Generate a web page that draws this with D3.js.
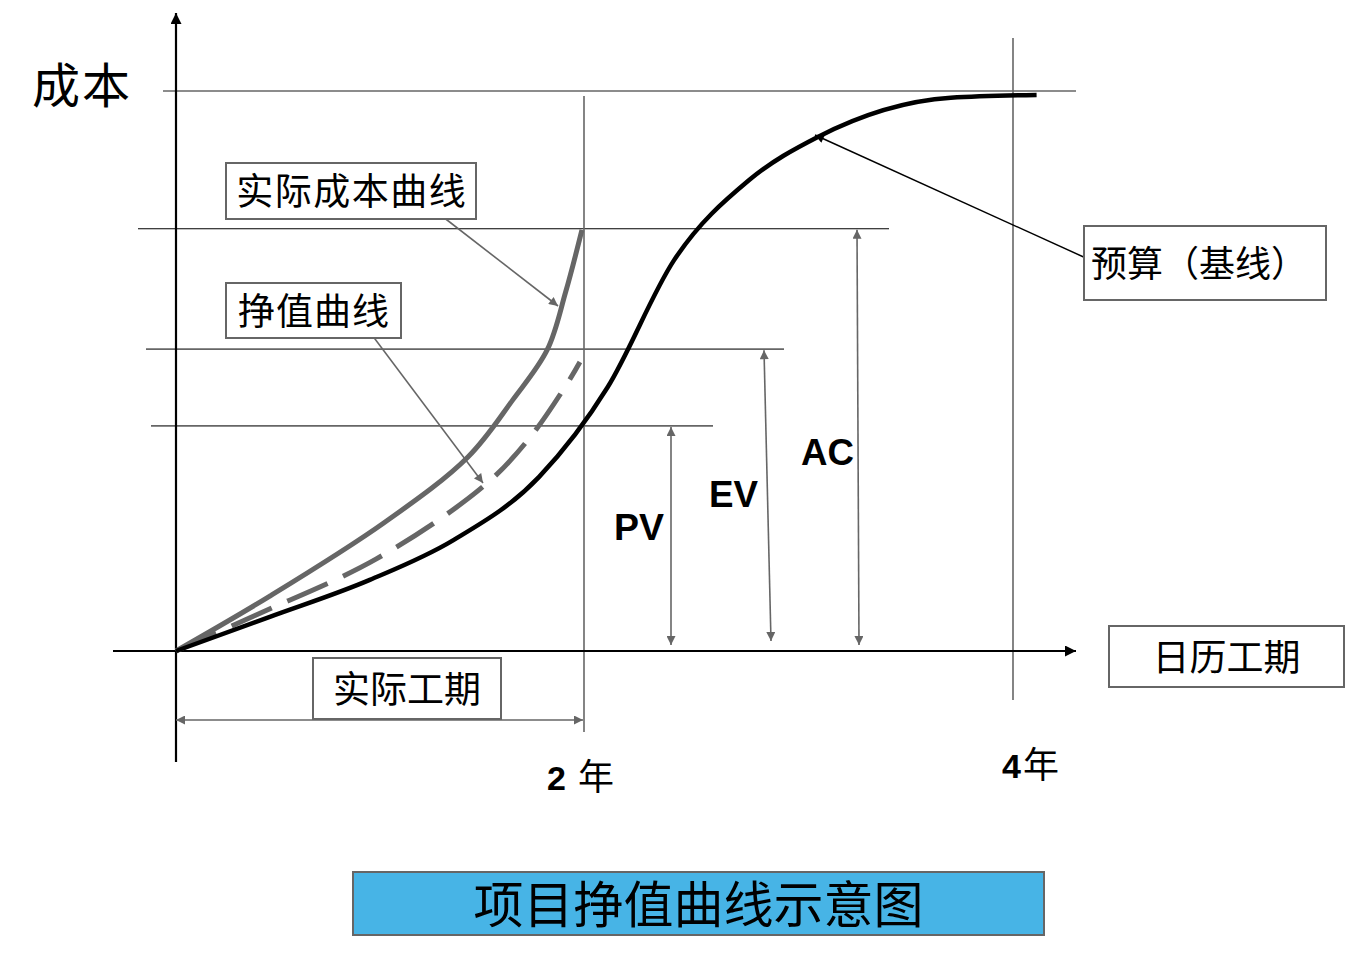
<!DOCTYPE html>
<html>
<head>
<meta charset="utf-8">
<script src="https://cdn.jsdelivr.net/npm/d3@7"></script>
<style>
  body { margin: 0; background: #fff; }
</style>
</head>
<body>
<div id="chart"></div>
<script>
// time in years, cost in % of budget
const planTime = [0, 0.46, 0.95, 1.36, 1.78, 2.11, 2.42, 2.77, 3.09, 3.71, 4.11];
const planCost = [0, 6.1, 12.7, 19.8, 31.1, 47.1, 69.8, 84.1, 91.8, 98.8, 99.3];

const actualTime = [0, 0.46, 1.02, 1.43, 1.65, 1.82, 1.91, 1.99];
const actualCost = [0, 9.8, 22.9, 34.6, 44.8, 53.8, 64.1, 75.2];

const earnedTime = [0, 0.39, 0.98, 1.51, 1.73, 1.92, 1.98];
const earnedCost = [0, 6.4, 16.4, 29.5, 37.9, 47.9, 51.6];

const budget = 100;
const acValue = 75.4;
const evValue = 53.9;
const pvValue = 40.2;

const yearTicks = [2, 4];
const yearLabels = ["2 年", "4年"];

const W = 1345, H = 961;
const GRAY = "#666";
const CJK = "'Noto Sans CJK SC', 'Noto Sans', sans-serif";
const LAT = "'Liberation Sans', Arial, sans-serif";

const x = d3.scaleLinear().domain([0, 2, 4]).range([176, 584, 1013]);
const y = d3.scaleLinear().domain([0, 100]).range([651, 91]);

const svg = d3.select("#chart")
  .append("svg")
  .attr("width", W)
  .attr("height", H);

const defs = svg.append("defs");
function marker(id, color, w, h) {
  defs.append("marker")
    .attr("id", id)
    .attr("viewBox", "0 0 10 10")
    .attr("refX", 10)
    .attr("refY", 5)
    .attr("markerUnits", "userSpaceOnUse")
    .attr("markerWidth", w)
    .attr("markerHeight", h)
    .attr("orient", "auto-start-reverse")
    .append("path")
    .attr("d", "M0,0 L10,5 L0,10 z")
    .attr("fill", color);
}
marker("arrGray", GRAY, 15, 9);
marker("arrBlack", "#000", 17, 11);
marker("arrSmall", "#000", 13, 9);

function line(x1, y1, x2, y2, color, width, start, end) {
  const l = svg.append("line")
    .attr("x1", x1).attr("y1", y1)
    .attr("x2", x2).attr("y2", y2)
    .attr("stroke", color)
    .attr("stroke-width", width);
  if (start) l.attr("marker-start", "url(#" + start + ")");
  if (end) l.attr("marker-end", "url(#" + end + ")");
  return l;
}

// horizontal reference lines
line(163, y(budget), 1076, y(budget), GRAY, 1.6);
line(138, y(acValue), 889, y(acValue), "#000", 1.2);
line(146, y(evValue), 784, y(evValue), GRAY, 1.6);
line(151, y(pvValue), 713, y(pvValue), GRAY, 1.6);

// vertical year lines
line(x(yearTicks[0]), 96, x(yearTicks[0]), 732, GRAY, 1.6);
line(x(yearTicks[1]), 38, x(yearTicks[1]), 700, GRAY, 1.6);

// axes
line(x(0), 762, x(0), 13, "#000", 2.2, null, "arrBlack");
line(113, y(0), 1076, y(0), "#000", 2.2, null, "arrBlack");

// curves
const planLine = d3.line()
  .x(d => x(d[0]))
  .y(d => y(d[1]))
  .curve(d3.curveMonotoneX);

const smoothLine = d3.line()
  .x(d => x(d[0]))
  .y(d => y(d[1]))
  .curve(d3.curveCatmullRom.alpha(0.5));

svg.append("path")
  .attr("d", smoothLine(d3.zip(earnedTime, earnedCost)))
  .attr("fill", "none")
  .attr("stroke", GRAY)
  .attr("stroke-width", 5)
  .attr("stroke-dasharray", "44,17");

svg.append("path")
  .attr("d", smoothLine(d3.zip(actualTime, actualCost)))
  .attr("fill", "none")
  .attr("stroke", GRAY)
  .attr("stroke-width", 5);

svg.append("path")
  .attr("d", planLine(d3.zip(planTime, planCost)))
  .attr("fill", "none")
  .attr("stroke", "#000")
  .attr("stroke-width", 4.5);

// PV / EV / AC measuring arrows
line(671, y(pvValue) + 1, 671, y(0) - 6, GRAY, 1.6, "arrGray", "arrGray");
line(764, y(evValue) + 1, 771, y(0) - 10, GRAY, 1.6, "arrGray", "arrGray");
line(857, y(acValue) + 1, 859, y(0) - 6, GRAY, 1.6, "arrGray", "arrGray");

// actual duration arrow
line(x(0), 720, x(2) - 1, 720, GRAY, 1.6, "arrGray", "arrGray");

// callouts
line(438, 213, 558, 306, GRAY, 1.6, null, "arrGray");
line(372, 335, 483, 483, GRAY, 1.6, null, "arrGray");
line(1088, 259, 815, 135, "#000", 1.5, null, "arrSmall");

function box(bx, by, bw, bh, label, fs, fill, tx, anchor, ls) {
  svg.append("rect")
    .attr("x", bx).attr("y", by)
    .attr("width", bw).attr("height", bh)
    .attr("fill", fill || "#fff")
    .attr("stroke", GRAY)
    .attr("stroke-width", 2);
  svg.append("text")
    .attr("x", tx != null ? tx : bx + bw / 2 + (ls || 0) / 2)
    .attr("y", by + bh / 2 + fs * 0.38)
    .attr("text-anchor", anchor || "middle")
    .attr("font-family", CJK)
    .attr("font-size", fs)
    .attr("letter-spacing", ls || 0)
    .attr("fill", "#000")
    .text(label);
}

box(226, 163, 250, 56, "实际成本曲线", 37, null, null, null, 1.5);
box(226, 283, 175, 55, "挣值曲线", 37, null, null, null, 1);
box(1084, 226, 242, 74, "预算（基线）", 36, null, 1091, "start");
box(1109, 626, 235, 61, "日历工期", 37);
box(313, 658, 188, 61, "实际工期", 37);
box(353, 872, 691, 63, "项目挣值曲线示意图", 50, "#47B4E6");

// axis label
svg.append("text")
  .attr("x", 32).attr("y", 103)
  .attr("font-family", CJK)
  .attr("font-size", 48)
  .attr("letter-spacing", 2)
  .text("成本");

// year labels
const yearPos = [[547, 790, 12], [1002, 778, 2]];
yearLabels.forEach((lab, i) => {
  const t = svg.append("text")
    .attr("x", yearPos[i][0]).attr("y", yearPos[i][1]);
  t.append("tspan")
    .attr("font-family", LAT)
    .attr("font-weight", "bold")
    .attr("font-size", 34)
    .text(lab.slice(0, 1));
  t.append("tspan")
    .attr("dx", yearPos[i][2])
    .attr("font-family", CJK)
    .attr("font-size", 36)
    .text(lab.slice(1).trim());
});

// PV EV AC
[["PV", 614, 540, 50], ["EV", 709, 507, 49], ["AC", 801, 465, 53]].forEach(d => {
  svg.append("text")
    .attr("x", d[1]).attr("y", d[2])
    .attr("font-family", LAT)
    .attr("font-weight", "bold")
    .attr("font-size", 37)
    .attr("textLength", d[3])
    .attr("lengthAdjust", "spacingAndGlyphs")
    .text(d[0]);
});
</script>
</body>
</html>
